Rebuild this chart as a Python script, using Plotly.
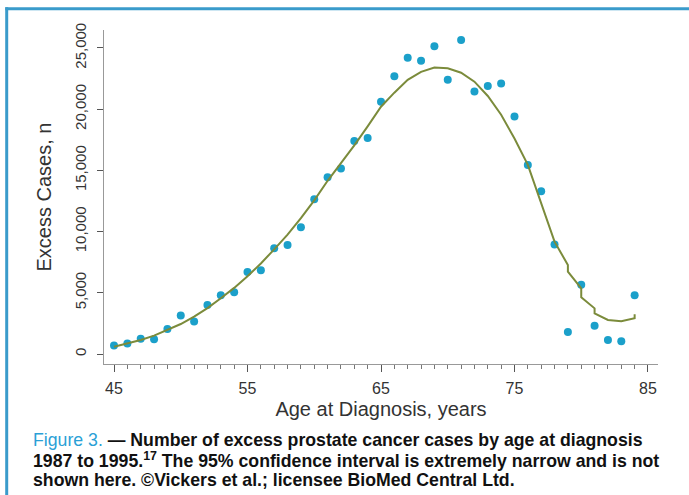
import plotly.graph_objects as go

# Observed excess cases by age at diagnosis
ages = list(range(45, 85))
excess_cases = [700, 850, 1250, 1200, 2050, 3150, 2650, 4000, 4800, 5050,
                6700, 6850, 8650, 8900, 10350, 12650, 14450, 15150, 17400, 17650,
                20600, 22700, 24200, 23950, 25150, 22400, 25650, 21450, 21900, 22100,
                19400, 15450, 13300, 8950, 1800, 5650, 2300, 1150, 1050, 4800]

# Smoothed fit (repeated ages where the fitted line jumps)
fit_ages = list(range(45, 79)) + [79, 79, 80, 80, 81, 81, 82, 83, 84, 84]
fit_values = [600, 850, 1150, 1500, 1950, 2450, 3050, 3750, 4550, 5400,
              6350, 7400, 8550, 9750, 11100, 12550, 14150, 15550, 17050, 18600,
              20200, 21350, 22400, 23050, 23400, 23350, 22980, 22250, 21080, 19550,
              17600, 15450, 12300, 9180,
              7270, 6720, 5370, 4630, 3730, 3320, 2780, 2670, 2920, 3240]

x_ticks = [45, 55, 65, 75, 85]
y_ticks = [0, 5000, 10000, 15000, 20000, 25000]
y_tick_labels = ["0", "5,000", "10,000", "15,000", "20,000", "25,000"]

FONT = "Liberation Sans, Arial, Helvetica, sans-serif"
W, H = 689, 495
ML, MR, MT, MB = 104, 31, 30, 131
PW, PH = W - ML - MR, H - MT - MB


def px_x(px):
    return (px - ML) / PW


def px_y(py):
    return (H - MB - py) / PH


fig = go.Figure()
fig.add_trace(go.Scatter(
    x=ages, y=excess_cases, mode="markers",
    marker=dict(color="#1ba0ca", size=8, line=dict(width=0)),
    showlegend=False,
))
fig.add_trace(go.Scatter(
    x=fit_ages, y=fit_values, mode="lines",
    line=dict(color="#7b8b3b", width=2),
    showlegend=False,
))

fig.update_layout(
    width=W, height=H,
    margin=dict(l=ML, r=MR, t=MT, b=MB, pad=0, autoexpand=False),
    paper_bgcolor="white", plot_bgcolor="white",
    font=dict(family=FONT, color="#333333"),
    xaxis=dict(
        range=[44.25, 85.75], tickmode="array", tickvals=x_ticks,
        ticktext=[str(v) for v in x_ticks],
        ticks="outside", ticklen=7, tickwidth=1, tickcolor="#555555",
        minor=dict(dtick=1, tick0=45, ticks="outside", ticklen=4,
                   tickwidth=1, tickcolor="#777777", showgrid=False),
        showline=True, linecolor="#999999", linewidth=1,
        showgrid=False, zeroline=False,
        tickfont=dict(size=16, color="#333333"),
        ticklabelstandoff=3,
        title=dict(text="Age at Diagnosis, years", standoff=5,
                   font=dict(size=20, color="#333333")),
    ),
    yaxis=dict(
        range=[-816, 26469], tickmode="array", tickvals=y_ticks,
        ticktext=y_tick_labels, tickangle=-90,
        ticks="outside", ticklen=6, tickwidth=1, tickcolor="#555555",
        showline=True, linecolor="#999999", linewidth=1,
        showgrid=False, zeroline=False,
        tickfont=dict(size=15, color="#333333"),
        ticklabelstandoff=5,
        title=dict(text="Excess Cases, n", standoff=15,
                   font=dict(size=20, color="#333333")),
    ),
)

# frame lines (top and left)
border = "#3a9bcb"
fig.add_shape(type="line", xref="paper", yref="paper",
              x0=px_x(5.3), x1=px_x(W + 2), y0=px_y(8.8), y1=px_y(8.8),
              line=dict(color=border, width=3))
fig.add_shape(type="line", xref="paper", yref="paper",
              x0=px_x(6.7), x1=px_x(6.7), y0=px_y(7.3), y1=px_y(H + 2),
              line=dict(color=border, width=3))

caption_lines = [
    "<span style='color:#2a9fd6'>Figure 3.</span><b> — Number of excess prostate cancer cases by age at diagnosis</b>",
    "<b>1987 to 1995.<sup>17</sup> The 95% confidence interval is extremely narrow and is not</b>",
    "<b>shown here. ©Vickers et al.; licensee BioMed Central Ltd.</b>",
]
for i, line in enumerate(caption_lines):
    fig.add_annotation(text=line, xref="paper", yref="paper",
                       x=px_x(31), y=px_y(440 + 20 * i),
                       xanchor="left", yanchor="middle", showarrow=False,
                       font=dict(family=FONT, size=17.7, color="#111111"))

fig.write_html("out.html",
               config={"displayModeBar": False},
               post_script="document.body.style.margin='0px';document.body.style.overflow='hidden';")
